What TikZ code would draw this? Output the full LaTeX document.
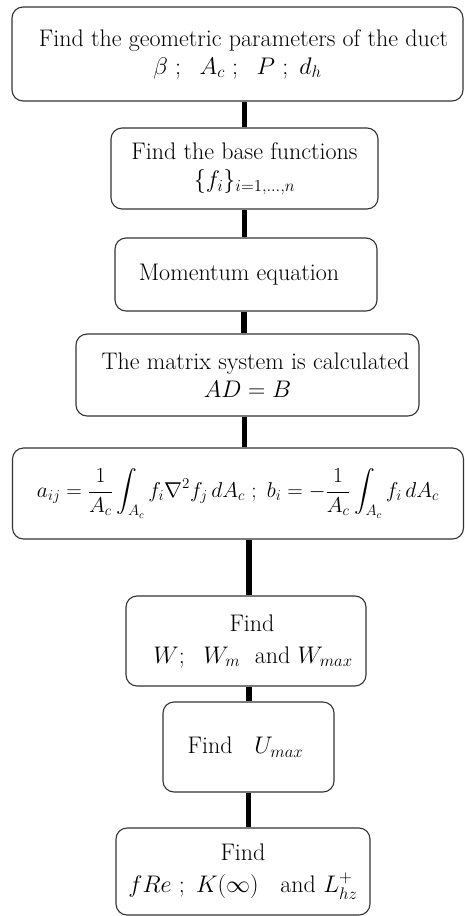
\RequirePackage{fix-cm}
\documentclass[tikz,border=0pt]{standalone}
\usepackage{amsmath}
\usepackage{fontspec}
\setmainfont{Latin Modern Roman}
\begin{document}
\begin{tikzpicture}[x=1pt,y=-1pt,
  box/.style={draw=black!80, line width=1.1pt, rounded corners=11pt, align=center, inner sep=0pt, font=\fontsize{24}{28}\selectfont},
  conn/.style={line width=5.8pt, black}]
\useasboundingbox (0,0) rectangle (464,916);
\node[box, minimum width=451pt, minimum height=94pt] (b1) at (237.5,54)
  {\hspace*{12pt}Find the geometric parameters of the duct\\[0pt] $\beta\ ;\ \ A_c\ ;\ \ P\ ;\ d_h$};
\node[box, minimum width=267pt, minimum height=81pt] (b2) at (244.5,168.5)
  {Find the base functions\\[0pt] $\{f_i\}_{i=1,\dots,n}$};
\node[box, minimum width=262pt, minimum height=73pt] (b3) at (246,274.5)
  {Momentum equation\hspace*{14pt}};
\node[box, minimum width=343pt, minimum height=82pt] (b4) at (247.5,375)
  {\hspace*{16pt}The matrix system is calculated\\[0pt] $AD=B$};
\node[box, minimum width=451pt, minimum height=91pt, font=\fontsize{21.5}{28}\selectfont] (b5) at (238,493.5)
  {$\displaystyle a_{ij}=\frac{1}{A_c}\int_{A_c} f_i\nabla^2 f_j\,dA_c\ ;\ b_i=-\frac{1}{A_c}\int_{A_c} f_i\,dA_c$};
\node[box, minimum width=240pt, minimum height=90pt] (b6) at (246,641)
  {\hspace*{12pt}Find\\[4pt] \hspace*{14pt}$W;\ \ W_m$\ \ and $W_{max}$};
\node[box, minimum width=171pt, minimum height=90pt] (b7) at (248.5,747)
  {Find\ \ \ $U_{max}$\hspace*{6pt}};
\node[box, minimum width=254pt, minimum height=87pt] (b8) at (243,871.5)
  {Find\\[4pt] $fRe\ ;\ K(\infty)$\ \ \ and $L_{hz}^{+}$};
\draw[conn] (b1.south -| b2.north) -- (b2.north);
\draw[conn] (b2.south) -- (b2.south |- b3.north);
\draw[conn] ([xshift=-2pt]b3.south) -- ([xshift=-2pt]b3.south |- b4.north);
\draw[conn] ([xshift=-3pt]b4.south) -- ([xshift=-3pt]b4.south |- b5.north);
\draw[conn] ([xshift=3pt]b6.north |- b5.south) -- ([xshift=3pt]b6.north);
\draw[conn] ([xshift=3pt]b6.south) -- ([xshift=3pt]b6.south |- b7.north);
\draw[conn] (b7.south) -- (b7.south |- b8.north);
\end{tikzpicture}
\end{document}
